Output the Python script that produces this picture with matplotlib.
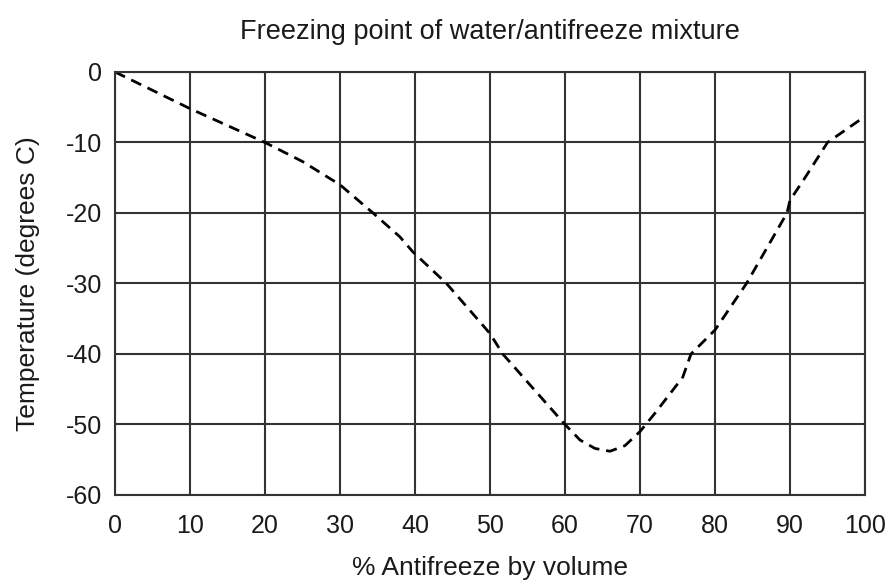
import matplotlib
matplotlib.use("Agg")
import matplotlib.pyplot as plt

pct_antifreeze = [0, 10, 20, 25, 30, 34.4, 38, 39.7, 44.2, 50, 51.7, 60, 62, 64, 66, 68, 70,
                  72, 75.7, 76.8, 80, 84.2, 89.6, 90, 92, 95, 100]
freezing_temp = [0, -5.2, -10, -12.7, -16, -20, -23.4, -25.5, -30, -37.1, -40, -50, -52.2, -53.4,
                 -53.8, -53.0, -51, -48.4, -43.3, -40, -36.6, -30, -20, -18.2, -15, -10, -6.3]
x_ticks = [0, 10, 20, 30, 40, 50, 60, 70, 80, 90, 100]
y_ticks = [0, -10, -20, -30, -40, -50, -60]

plt.rcParams['font.family'] = ['Liberation Sans', 'DejaVu Sans']

fig = plt.figure(figsize=(8.9, 5.88), dpi=100)
ax = fig.add_axes([0.1292, 0.1582, 0.8427, 0.7194])

ax.plot(pct_antifreeze, freezing_temp, color='black', linestyle=(0, (4, 2.5)), linewidth=2.0)

ax.set_xlim(0, 100)
ax.set_ylim(-60, 0)
ax.set_xticks(x_ticks)
ax.set_yticks(y_ticks)
ax.set_xticklabels([str(v) for v in x_ticks])
ax.set_yticklabels([str(v) for v in y_ticks])
ax.tick_params(axis='both', length=0, labelsize=18, colors='#1a1a1a')
ax.tick_params(axis='x', pad=14)
ax.tick_params(axis='y', pad=9)
ax.grid(True, color='#333333', linewidth=1.5)
ax.set_axisbelow(True)
for s in ax.spines.values():
    s.set_color('#333333')
    s.set_linewidth(1.5)

ax.set_title('Freezing point of water/antifreeze mixture', fontsize=19.5, pad=24, color='#1a1a1a')
ax.set_xlabel('% Antifreeze by volume', fontsize=19, labelpad=13, color='#1a1a1a')
ax.set_ylabel('Temperature (degrees C)', fontsize=19, labelpad=19, color='#1a1a1a')

fig.savefig('out.png', dpi=100)
